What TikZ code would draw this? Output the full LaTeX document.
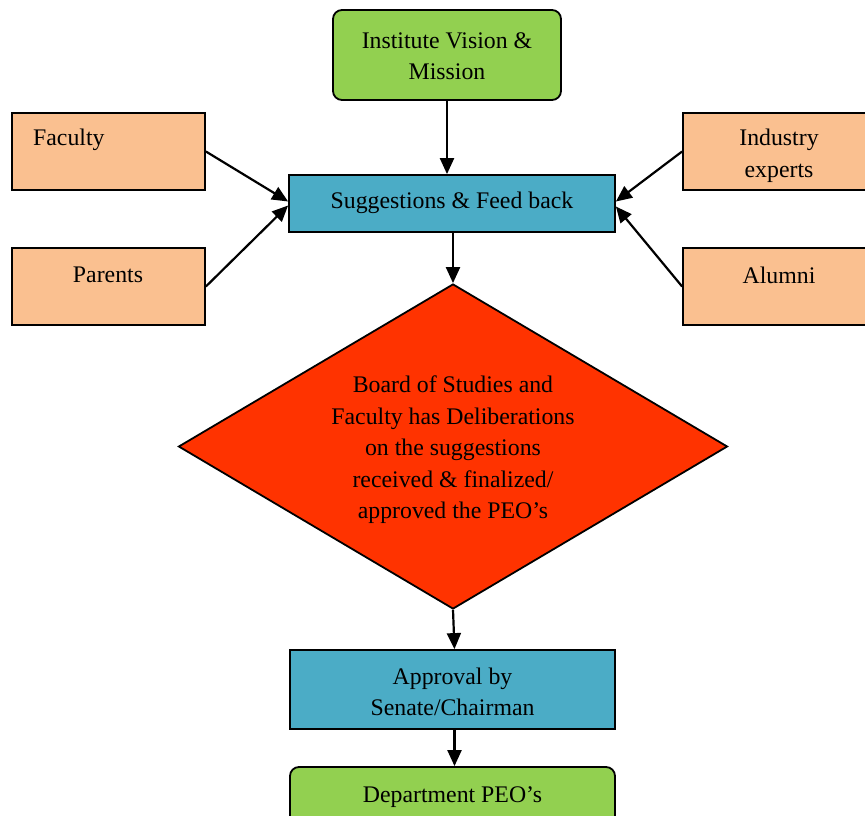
\documentclass[tikz,border=0pt]{standalone}
\usepackage{fontspec}
\setmainfont{Liberation Serif}
\usetikzlibrary{shapes.geometric,arrows.meta,calc}
\definecolor{cgreen}{HTML}{92D050}
\definecolor{cblue}{HTML}{4BACC6}
\definecolor{corange}{HTML}{FAC090}
\definecolor{cred}{HTML}{FF3300}
\begin{document}
\begin{tikzpicture}[x=1pt,y=-1pt,
  box/.style={draw=black,line width=1.8pt,inner sep=0pt,rectangle},
  gbox/.style={box,fill=cgreen,rounded corners=9pt},
  bbox/.style={box,fill=cblue},
  obox/.style={box,fill=corange},
  txt/.style={font=\fontsize{23.8}{31.5}\selectfont,align=center,inner sep=0pt},
  arr/.style={line width=2.2pt,-{Triangle[length=16pt,width=14pt]}}]
\useasboundingbox (0,0) rectangle (865,816);
% boxes
\node[gbox,minimum width=228pt,minimum height=90pt] (vis) at (447,55) {};
\node[txt] (vist) at (447,56) {Institute Vision \&\\Mission};
\node[bbox,minimum width=326pt,minimum height=57pt] (sug) at (452,203.5) {};
\node[txt] (sugt) at (452,203) {Suggestions \& Feed back};
\node[obox,minimum width=193pt,minimum height=77pt] (fac) at (108.5,151.5) {};
\node[txt,anchor=west] (fact) at (33,140) {Faculty};
\node[obox,minimum width=193pt,minimum height=77pt] (par) at (108.5,286.5) {};
\node[txt] (part) at (108,275) {Parents};
\node[obox,minimum width=193pt,minimum height=77pt] (ind) at (779.5,151.5) {};
\node[txt] (indt) at (779,156) {Industry\\experts};
\node[obox,minimum width=193pt,minimum height=77pt] (alu) at (779.5,286.5) {};
\node[txt] (alut) at (779,275) {Alumni};
\node[draw=black,line width=1.8pt,fill=cred,diamond,inner sep=0pt,minimum width=549pt,minimum height=325pt] (dia) at (453,446.5) {};
\node[txt] (diat) at (453,450) {Board of Studies and\\Faculty has Deliberations\\on the suggestions\\received \& finalized/\\approved the PEO’s};
\node[bbox,minimum width=325pt,minimum height=79pt] (app) at (452.5,689.5) {};
\node[txt] (appt) at (452.5,692) {Approval by\\Senate/Chairman};
\node[gbox,minimum width=325pt,minimum height=80pt] (dep) at (452.5,807) {};
\node[txt] (dept) at (452.5,797) {Department PEO’s};
% arrows
\draw[arr] (vis.south) -- (vis.south |- sug.north);
\draw[arr] (fac.east) -- ($(sug.west)+(0,-2)$);
\draw[arr] (par.east) -- ($(sug.west)+(0,2)$);
\draw[arr] (ind.west) -- ($(sug.east)+(0,-2)$);
\draw[arr] (alu.west) -- ($(sug.east)+(0,3)$);
\draw[arr] (dia.north |- sug.south) -- (dia.north);
\draw[arr] (dia.south) -- ($(app.north)+(2,0)$);
\draw[arr] ($(app.south)+(2,0)$) -- ($(dep.north)+(2,0)$);
\end{tikzpicture}
\end{document}
